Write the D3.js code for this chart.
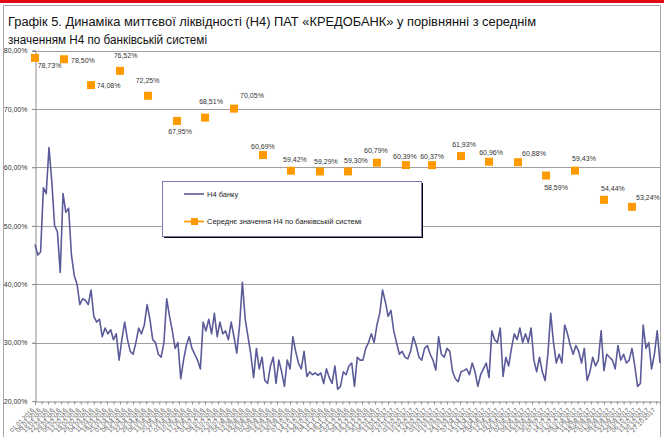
<!DOCTYPE html>
<html><head><meta charset="utf-8">
<script src="https://cdn.jsdelivr.net/npm/d3@7"></script>
<style>
html,body{margin:0;padding:0;background:#fff;}
svg{display:block;font-family:"Liberation Sans",Arial,sans-serif;}
</style></head>
<body><svg id="c" width="664" height="437"></svg>
<script>
const titleLines = ["Графік 5. Динаміка миттєвої ліквідності (Н4) ПАТ «КРЕДОБАНК» у порівнянні з середнім",
                    "значенням Н4 по банківській системі"];
const legendNames = ["Н4 банку", "Середнє значення Н4 по банківській системі"];
const yTicks = [20,30,40,50,60,70,80];
const tickLabels = ["01.01.2016","08.01.2016","15.01.2016","22.01.2016","29.01.2016","05.02.2016","12.02.2016","19.02.2016","26.02.2016","04.03.2016","11.03.2016","18.03.2016","25.03.2016","01.04.2016","08.04.2016","15.04.2016","22.04.2016","29.04.2016","06.05.2016","13.05.2016","20.05.2016","27.05.2016","03.06.2016","10.06.2016","17.06.2016","24.06.2016","01.07.2016","08.07.2016","15.07.2016","22.07.2016","29.07.2016","05.08.2016","12.08.2016","19.08.2016","26.08.2016","02.09.2016","09.09.2016","16.09.2016","23.09.2016","30.09.2016","07.10.2016","14.10.2016","21.10.2016","28.10.2016","04.11.2016","11.11.2016","18.11.2016","25.11.2016","02.12.2016","09.12.2016","16.12.2016","23.12.2016","30.12.2016","06.01.2017","13.01.2017","20.01.2017","27.01.2017","03.02.2017","10.02.2017","17.02.2017","24.02.2017","03.03.2017","10.03.2017","17.03.2017","24.03.2017","31.03.2017","07.04.2017","14.04.2017","21.04.2017","28.04.2017","05.05.2017","12.05.2017","19.05.2017","26.05.2017","02.06.2017","09.06.2017","16.06.2017","23.06.2017","30.06.2017","07.07.2017","14.07.2017","21.07.2017","28.07.2017","04.08.2017","11.08.2017","18.08.2017","25.08.2017","01.09.2017","08.09.2017","15.09.2017","22.09.2017","29.09.2017","06.10.2017","13.10.2017","20.10.2017","27.10.2017"];
const axisStart = "01.01.2016", axisEnd = "31.10.2017";
const avgDates = ["01.01.2016","01.02.2016","01.03.2016","01.04.2016","01.05.2016","01.06.2016","01.07.2016","01.08.2016","01.09.2016","01.10.2016","01.11.2016","01.12.2016","01.01.2017","01.02.2017","01.03.2017","01.04.2017","01.05.2017","01.06.2017","01.07.2017","01.08.2017","01.09.2017","01.10.2017"];
const avgValues = [78.73,78.50,74.08,76.52,72.25,67.95,68.51,70.05,62.1,59.42,59.29,59.30,60.79,60.39,60.37,61.93,60.96,60.88,58.59,59.43,54.44,53.24];
const avgLabels = ["78,73%","78,50%","74,08%","76,52%","72,25%","67,95%","68,51%","70,05%","60,69%","59,42%","59,29%","59,30%","60,79%","60,39%","60,37%","61,93%","60,96%","60,88%","58,59%","59,43%","54,44%","53,24%"];
// label offsets (style): centre of text relative to marker
const labelDx = [14.5,19,17.5,5.5,-0.5,3,6,18,0,4,6,8,-1,-1,0,3,2,16,10,9,9,16];
const labelDy = [8,1,0,-15,-15,11,-16,-13,-9,-11,-10,-11,-12,-9,-9,-12,-9,-9,12,-12,-11,-9];
const bankStart = "01.01.2016", bankStepDays = 3;
const bankValues = [46.8,45.0,45.5,56.5,55.5,63.4,57.5,50,49,42,55.5,52.3,53,45,41.5,40,36.5,37.5,37.2,36.5,
  39,34.5,33.5,34,31,32.5,31.5,32.2,30.5,31.5,27,30.5,33.5,30.5,28.5,28,30,32.5,31.5,33,
  36.5,34,30.5,30,28,27.5,30,37.5,34.5,32,29,30,23.8,27,29.5,31,29,28,27,25.5,
  33.5,32,34,31.5,35,31,33.5,31.5,32,30.5,33.5,31,28.2,33,40.3,34,31,28,24,29,
  25.5,27.5,23.5,23,26,27.5,23,27,25,22.5,27,25.5,31,28.5,26.5,25.5,28.5,24.2,25,24.5,
  24.8,24.4,24.8,23,25.5,24,23,26,22,22.5,25,24.5,26,26.5,22.5,27.5,27,27,29,30,
  31.5,30,33,35,39,37,34.5,35.5,32,30,28,28.5,27.5,27.2,28.5,31,29.5,27.5,27,29,
  29.5,28,27,25.3,31,28,27.5,29,28.5,25,23.8,23.3,25,25.2,25.5,24.5,26.5,25,22.5,24.5,
  25.5,26.5,24,32,30.5,30,32.5,24.2,27.5,26,29,31.5,30.5,32.5,30,31.5,30,32.5,27,25,
  27.5,25,23.5,28,35,30,26.5,28,26.5,33,31.5,29.5,28,29.5,28.5,26.5,29,23.5,25,27.5,
  26,27,32,25.2,28,27.5,27,25.5,29.5,27,28,26.5,27,29,26,22.5,23,33,29,30,
  25.5,28,32,26.5];

const parse = d3.timeParse("%d.%m.%Y");
const svg = d3.select("#c");
const L = 35, R = 660, T = 50.5, B = 401;
const x = d3.scaleTime().domain([parse(axisStart), parse(axisEnd)]).range([L, R]);
const y = d3.scaleLinear().domain([20, 80]).range([B, T]);
const fmtPct = v => d3.format(".2f")(v).replace(".", ",") + "%";

// top red bar and frame
svg.append("rect").attr("x",0).attr("y",0).attr("width",664).attr("height",3).attr("fill","#e30613");
svg.append("rect").attr("x",3.5).attr("y",5.5).attr("width",657).attr("height",440)
  .attr("fill","none").attr("stroke","#a6a6a6");

// title
svg.append("g").selectAll("text").data(titleLines).join("text")
  .attr("x", 8).attr("y", (d,i) => 26 + i*18)
  .attr("font-size", 12.3).attr("fill", "#111")
  .attr("textLength", (d,i) => i === 0 ? 528 : 199).attr("lengthAdjust","spacingAndGlyphs")
  .text(d => d);

// gridlines
svg.append("g").selectAll("line").data(yTicks.filter(v => v > 20)).join("line")
  .attr("x1", L - 3).attr("x2", R).attr("y1", d => Math.round(y(d)) + 0.5).attr("y2", d => Math.round(y(d)) + 0.5)
  .attr("stroke", "#a0a0a0").attr("stroke-width", 1);

// y axis
const gy = svg.append("g").attr("transform", `translate(${L + 0.5},0)`)
  .call(d3.axisLeft(y).tickValues(yTicks).tickSize(3).tickFormat(fmtPct));
gy.select(".domain").attr("stroke", "#8c8c8c");
gy.selectAll(".tick line").attr("stroke", "#8c8c8c");
gy.selectAll(".tick text").attr("font-size", 7).attr("fill", "#333").attr("font-family","Liberation Sans, Arial").attr("dx", -2);

// x axis
const tickDates = tickLabels.map(parse);
const gx = svg.append("g").attr("transform", `translate(0,${Math.round(B) + 0.5})`)
  .call(d3.axisBottom(x).tickValues(tickDates).tickSize(3).tickFormat((d,i) => tickLabels[i]));
gx.select(".domain").attr("stroke", "#8c8c8c");
gx.selectAll(".tick line").attr("stroke", "#8c8c8c");
gx.selectAll(".tick text").attr("font-size", 6.3).attr("fill", "#555").attr("font-family","Liberation Sans, Arial")
  .attr("text-anchor", "end").attr("dy", 0).attr("y", 0)
  .attr("transform", "translate(-1,9) rotate(-45)");

// bank line
const bankDates = bankValues.map((v,i) => d3.timeDay.offset(parse(bankStart), i * bankStepDays));
const line = d3.line().x((d,i) => x(bankDates[i])).y(d => y(d));
svg.append("path").datum(bankValues).attr("d", line)
  .attr("fill", "none").attr("stroke", "#5b5b99").attr("stroke-width", 1.6).attr("stroke-linejoin","round");

// average markers
const avg = avgValues.map((v,i) => ({d: parse(avgDates[i]), v, lab: avgLabels[i], dx: labelDx[i], dy: labelDy[i]}));
svg.append("g").selectAll("rect").data(avg).join("rect")
  .attr("x", d => x(d.d) - 4).attr("y", d => y(d.v) - 4).attr("width", 8).attr("height", 8)
  .attr("fill", "#ff9900");
svg.append("g").selectAll("text").data(avg).join("text")
  .attr("x", d => x(d.d) + d.dx).attr("y", d => y(d.v) + d.dy)
  .attr("text-anchor", "middle").attr("dominant-baseline", "central")
  .attr("font-size", 7).attr("fill", "#333").text(d => d.lab);

// legend
const lg = svg.append("g");
lg.append("rect").attr("x", 164).attr("y", 183).attr("width", 259).attr("height", 55).attr("fill", "#000");
lg.append("rect").attr("x", 162.5).attr("y", 181.5).attr("width", 259).attr("height", 55)
  .attr("fill", "#fff").attr("stroke", "#7a7ab0");
const legRows = [{name: legendNames[0], color: "#5b5b99", marker: false}, {name: legendNames[1], color: "#ff9900", marker: true}];
const lr = lg.selectAll("g.row").data(legRows).join("g").attr("transform", (d,i) => `translate(184,${194 + i*27.5})`);
lr.append("line").attr("x1", 0).attr("x2", 20).attr("stroke", d => d.color).attr("stroke-width", d => d.marker ? 1.8 : 1.6);
lr.filter(d => d.marker).append("rect").attr("x", 7).attr("y", -3.5).attr("width", 7).attr("height", 7).attr("fill", "#ff9900");
lr.append("text").attr("x", 23).attr("y", 0).attr("dominant-baseline", "central")
  .attr("font-size", 7.5).attr("fill", "#222").text(d => d.name);
</script></body></html>
